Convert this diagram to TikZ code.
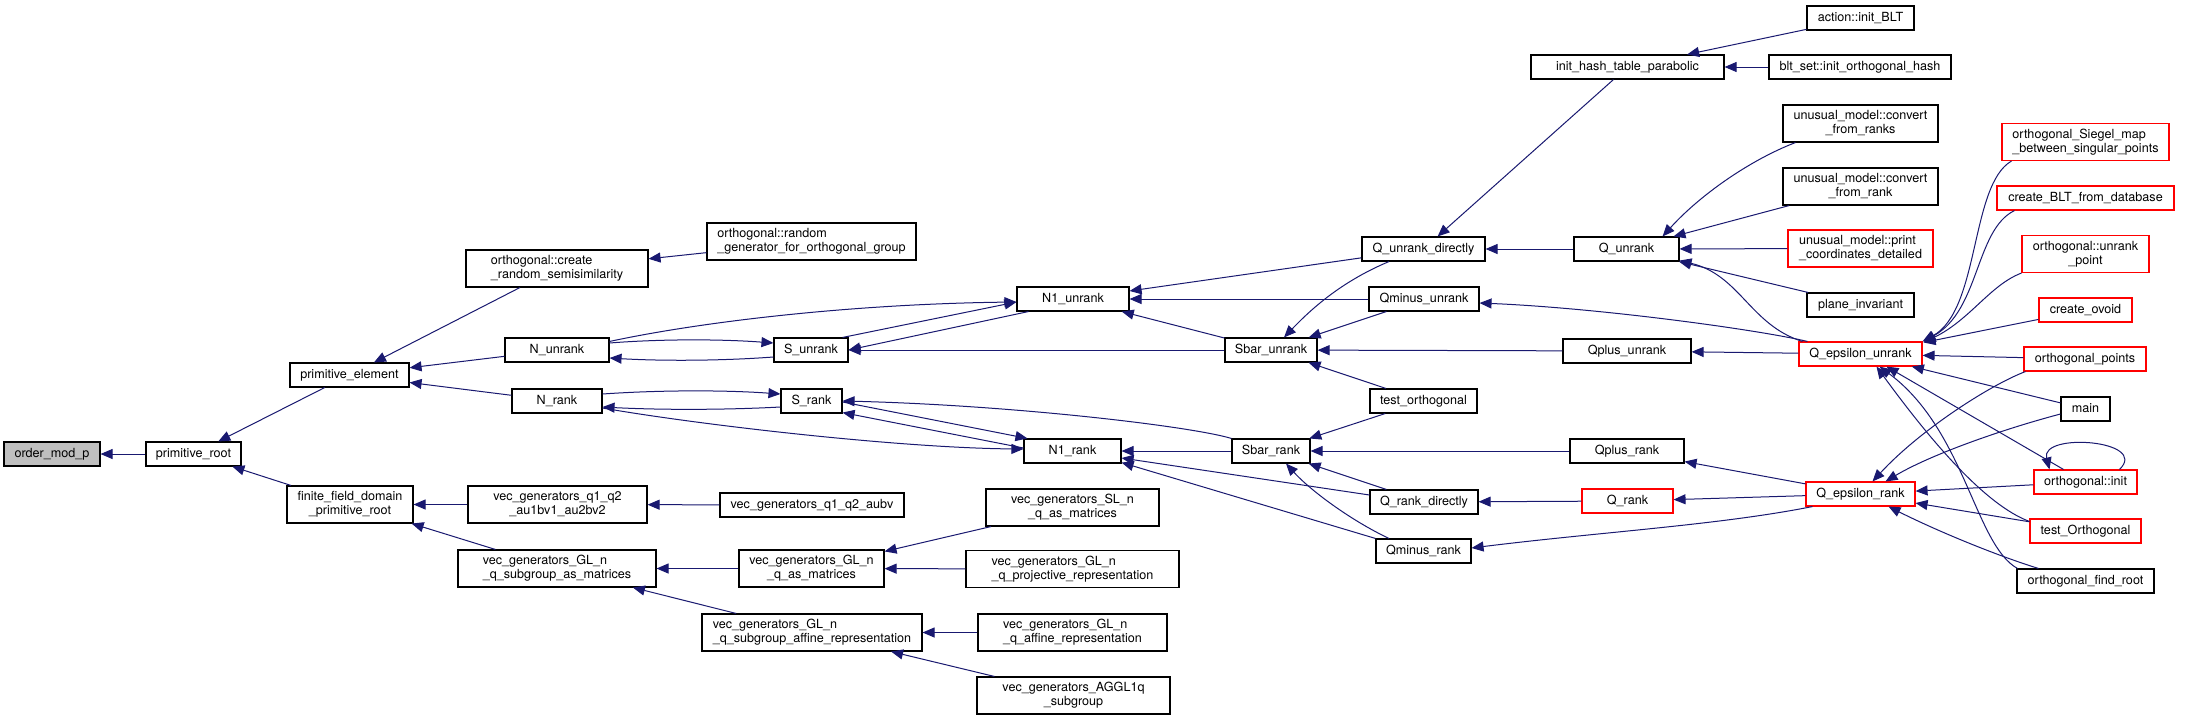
\documentclass[tikz,border=0pt]{standalone}
\usepackage{fontspec}
\setmainfont{TeX Gyre Heros}
\usetikzlibrary{arrows.meta,calc}
\definecolor{edgec}{HTML}{191970}
\definecolor{redc}{HTML}{FF0000}
\definecolor{rootfill}{HTML}{BFBFBF}
\newcommand\mys{\rule[-3pt]{0pt}{12.2pt}}
\begin{document}
\begin{tikzpicture}[x=1pt,y=-1pt,
  box/.style={draw=black, line width=1.1pt, fill=white, inner sep=0pt,
    font=\fontsize{12.6pt}{14pt}\selectfont},
  redbox/.style={box, draw=redc},
  rootbox/.style={box, fill=rootfill},
  e/.style={draw=edgec, line width=1pt, -{Triangle[length=12pt,width=10pt]}},
]
\fill[white] (0,0) rectangle (2206,720);
\useasboundingbox (0,0) rectangle (2206,720);

% column 0-2
\node[rootbox, minimum width=96, minimum height=24] (omp) at (52,454) {\mys order\_mod\_p};
\node[box, minimum width=95, minimum height=24] (pr) at (193.5,454) {\mys primitive\_root};
\node[box, minimum width=119, minimum height=24] (pe) at (349.5,375) {\mys primitive\_element};
\node[box, minimum width=126, minimum height=37, align=center] (ffd) at (350,504.5) {\mys finite\_field\_domain\\\mys \_primitive\_root};
% column 3
\node[box, minimum width=182, minimum height=37, align=left] (ocr) at (557,268.5) {\mys orthogonal::create\\\mys \_random\_semisimilarity};
\node[box, minimum width=104, minimum height=24] (nun) at (557,350) {\mys N\_unrank};
\node[box, minimum width=90, minimum height=24] (nrk) at (557,401) {\mys N\_rank};
\node[box, minimum width=179, minimum height=37, align=center] (vq1) at (557.5,504.5) {\mys vec\_generators\_q1\_q2\\\mys \_au1bv1\_au2bv2};
\node[box, minimum width=198, minimum height=37, align=left] (vsub) at (557,568.5) {\mys vec\_generators\_GL\_n\\\mys \_q\_subgroup\_as\_matrices};
% column 4
\node[box, minimum width=209, minimum height=37, align=left] (org) at (811.5,241.5) {\mys orthogonal::random\\\mys \_generator\_for\_orthogonal\_group};
\node[box, minimum width=74, minimum height=24] (sun) at (811,350) {\mys S\_unrank};
\node[box, minimum width=61, minimum height=24] (srk) at (811.5,401) {\mys S\_rank};
\node[box, minimum width=184, minimum height=24] (vaubv) at (812,505) {\mys vec\_generators\_q1\_q2\_aubv};
\node[box, minimum width=145, minimum height=37, align=center] (vglq) at (811.5,568.5) {\mys vec\_generators\_GL\_n\\\mys \_q\_as\_matrices};
\node[box, minimum width=220, minimum height=37, align=left] (vaff) at (812,632.5) {\mys vec\_generators\_GL\_n\\\mys \_q\_subgroup\_affine\_representation};
% column 5
\node[box, minimum width=112, minimum height=24] (n1u) at (1073,299) {\mys N1\_unrank};
\node[box, minimum width=97, minimum height=24] (n1r) at (1072.5,451) {\mys N1\_rank};
\node[box, minimum width=173, minimum height=37, align=center] (vsl) at (1072.5,507.5) {\mys vec\_generators\_SL\_n\\\mys \_q\_as\_matrices};
\node[box, minimum width=213, minimum height=37, align=left] (vproj) at (1072.5,569) {\mys vec\_generators\_GL\_n\\\mys \_q\_projective\_representation};
\node[box, minimum width=189, minimum height=37, align=left] (vgaff) at (1072.5,632.5) {\mys vec\_generators\_GL\_n\\\mys \_q\_affine\_representation};
\node[box, minimum width=193, minimum height=37, align=center] (vaggl) at (1073.5,695.5) {\mys vec\_generators\_AGGL1q\\\mys \_subgroup};
% column 6
\node[box, minimum width=92, minimum height=24] (sbu) at (1271,350) {\mys Sbar\_unrank};
\node[box, minimum width=78, minimum height=24] (sbr) at (1271,451) {\mys Sbar\_rank};
% column 7
\node[box, minimum width=123, minimum height=24] (qud) at (1423.5,249) {\mys Q\_unrank\_directly};
\node[box, minimum width=110, minimum height=24] (qmu) at (1424,299) {\mys Qminus\_unrank};
\node[box, minimum width=107, minimum height=24] (tor) at (1423.5,401) {\mys test\_orthogonal};
\node[box, minimum width=108, minimum height=24] (qrd) at (1424,502) {\mys Q\_rank\_directly};
\node[box, minimum width=95, minimum height=24] (qmr) at (1423.5,551) {\mys Qminus\_rank};
% column 8
\node[box, minimum width=193, minimum height=24] (ihp) at (1627.5,67) {\mys init\_hash\_table\_parabolic};
\node[box, minimum width=105, minimum height=24] (qun) at (1626.5,249) {\mys Q\_unrank};
\node[box, minimum width=128, minimum height=24] (qpu) at (1627,351) {\mys Qplus\_unrank};
\node[box, minimum width=114, minimum height=24] (qpr) at (1627,451) {\mys Qplus\_rank};
\node[redbox, minimum width=91, minimum height=24] (qr) at (1627.5,501) {\mys Q\_rank};
% column 9
\node[box, minimum width=107, minimum height=24] (abl) at (1860.5,18) {\mys action::init\_BLT};
\node[box, minimum width=182, minimum height=24] (bsh) at (1860,67) {\mys blt\_set::init\_orthogonal\_hash};
\node[box, minimum width=155, minimum height=37, align=center] (ucr) at (1860.5,123.5) {\mys unusual\_model::convert\\\mys \_from\_ranks};
\node[box, minimum width=155, minimum height=37, align=center] (uc1) at (1860.5,186.5) {\mys unusual\_model::convert\\\mys \_from\_rank};
\node[redbox, minimum width=145, minimum height=37, align=left] (upc) at (1860.5,248.5) {\mys unusual\_model::print\\\mys \_coordinates\_detailed};
\node[box, minimum width=107, minimum height=24] (pin) at (1860.5,305) {\mys plane\_invariant};
\node[redbox, minimum width=123, minimum height=24] (qeu) at (1860.5,354) {\mys Q\_epsilon\_unrank};
\node[redbox, minimum width=109, minimum height=24] (qer) at (1860.5,494) {\mys Q\_epsilon\_rank};
% column 10
\node[redbox, minimum width=167, minimum height=37, align=left] (sieg) at (2085.5,142) {\mys orthogonal\_Siegel\_map\\\mys \_between\_singular\_points};
\node[redbox, minimum width=177, minimum height=24] (cblt) at (2085.5,198) {\mys create\_BLT\_from\_database};
\node[redbox, minimum width=127, minimum height=37, align=center] (our) at (2085.5,254) {\mys orthogonal::unrank\\\mys \_point};
\node[redbox, minimum width=93, minimum height=24] (cov) at (2085.5,310) {\mys create\_ovoid};
\node[redbox, minimum width=122, minimum height=24] (opt) at (2085,359) {\mys orthogonal\_points};
\node[box, minimum width=49, minimum height=24] (main) at (2085.5,409) {\mys main};
\node[redbox, minimum width=103, minimum height=24] (oin) at (2085.5,482) {\mys orthogonal::init};
\node[redbox, minimum width=111, minimum height=24] (tO) at (2085.5,531) {\mys test\_Orthogonal};
\node[box, minimum width=137, minimum height=24] (ofr) at (2085.5,581) {\mys orthogonal\_find\_root};

% ---- edges: left part
\draw[e] (pr) -- (omp);
\draw[e] (pe) -- (pr);
\draw[e] (ffd) -- (pr);
\draw[e] (ocr) -- (pe);
\draw[e] (nun) -- (pe);
\draw[e] (nrk) -- (pe);
\draw[e] (org) -- (ocr);
\draw[e] (vq1) -- (ffd);
\draw[e] (vsub) -- (ffd);
\draw[e] (vaubv) -- (vq1);
\draw[e] (vglq) -- (vsub);
\draw[e] (vaff) -- (vsub);
\draw[e] (vsl) -- (vglq);
\draw[e] (vproj) -- (vglq);
\draw[e] (vgaff) -- (vaff);
\draw[e] (vaggl) -- (vaff);

% unrank cluster
\draw[e] ($(nun.north east)+(0,4)$) .. controls (700,322) and (850,304) .. ($(n1u.west)+(0,3)$);
\draw[e] ($(nun.east)+(0,-7)$) .. controls (660,339) and (720,339) .. ($(sun.west)+(0,-7)$);
\draw[e] ($(sun.west)+(0,7)$) .. controls (720,361) and (660,361) .. ($(nun.east)+(0,8)$);
\draw[e] ($(sun.north east)+(-6,0)$) -- ($(n1u.west)+(0,3)$);
\draw[e] ($(n1u.south west)+(12,0)$) -- (sun.east);
\draw[e] (sbu) -- (sun);
\draw[e] (qud) -- (n1u);
\draw[e] (qmu) -- (n1u);
\draw[e] (sbu) -- (n1u);
\draw[e] ($(qud.south)+(-34.5,0)$) .. controls (1345,280) and (1315,305) .. ($(sbu.north)+(13,0)$);
\draw[e] (qmu) -- (sbu);
\draw[e] (qpu) -- (sbu);
\draw[e] (tor) -- (sbu);

% rank cluster
\draw[e] ($(nrk.east)+(0,-7)$) .. controls (660,390) and (725,390) .. ($(srk.west)+(0,-7)$);
\draw[e] ($(srk.west)+(0,6)$) .. controls (725,410) and (660,410) .. ($(nrk.east)+(0,6)$);
\draw[e] ($(nrk.east)+(0,7)$) .. controls (700,425) and (900,448) .. ($(n1r.west)+(0,-2)$);
\draw[e] ($(srk.east)+(0,1)$) -- ($(n1r.north west)+(4,0)$);
\draw[e] ($(n1r.west)+(0,-3)$) -- ($(srk.south east)+(0,-1)$);
\draw[e] (sbr.north west) .. controls (1190,426) and (1010,405) .. (srk.east);
\draw[e] (sbr) -- (n1r);
\draw[e] ($(qrd.west)+(0,-7)$) -- ($(n1r.east)+(0,7)$);
\draw[e] (qmr.north west) -- ($(n1r.south east)+(0,-1)$);
\draw[e] (qrd) -- (sbr);
\draw[e] ($(qmr.north)+(-34.5,0)$) .. controls (1350,520) and (1310,490) .. ($(sbr.south)+(15,0)$);
\draw[e] (tor) -- (sbr);
\draw[e] (qpr) -- (sbr);
\draw[e] (qr) -- (qrd);

% top right
\draw[e] (abl) -- (ihp);
\draw[e] (bsh) -- (ihp);
\draw[e] (ihp) -- (qud);
\draw[e] (qun) -- (qud);
\draw[e] ($(ucr.south west)+(13,0)$) .. controls (1750,160) and (1700,195) .. ($(qun.north east)+(-17,0)$);
\draw[e] (uc1) -- (qun);
\draw[e] (upc) -- (qun);
\draw[e] (pin) -- (qun);
\draw[e] ($(qeu.north west)+(4,0)$) .. controls (1750,325) and (1740,275) .. ($(qun.south east)+(0,-1)$);
\draw[e] ($(qeu.north west)+(9,0)$) .. controls (1760,330) and (1600,308) .. ($(qmu.east)+(0,4)$);
\draw[e] (qeu) -- (qpu);

% into Q_epsilon_unrank
\draw[e] ($(sieg.south west)+(10,0)$) .. controls (1970,185) and (1980,310) .. (qeu.north east);
\draw[e] ($(cblt.south west)+(18,0)$) .. controls (1975,230) and (1980,310) .. ($(qeu.north east)+(1,0)$);
\draw[e] (our.south west) .. controls (1990,285) and (1970,320) .. ($(qeu.north east)+(1,1)$);
\draw[e] (cov) -- ($(qeu.north east)+(1,1)$);
\draw[e] (opt) -- (qeu);
\draw[e] (main) -- (qeu);
\draw[e] ($(oin.north)+(-22,0)$) -- ($(qeu.south)+(26,0)$);
\draw[e] ($(oin.north)+(34,0)$) .. controls (2150,440) and (2040,432) .. ($(oin.north)+(-36,0)$);
\draw[e] ($(tO.north west)+(0,3)$) .. controls (1985,505) and (1930,440) .. ($(qeu.south)+(16,0)$);
\draw[e] ($(ofr.north west)+(1,0)$) .. controls (1975,545) and (1965,430) .. ($(qeu.south)+(19,0)$);

% Q_epsilon_rank
\draw[e] (qer) -- (qpr);
\draw[e] (qer) -- (qr);
\draw[e] ($(qer.south west)+(7,0)$) .. controls (1720,525) and (1600,532) .. ($(qmr.east)+(0,-3)$);
\draw[e] ($(opt.south west)+(2,0)$) .. controls (1990,385) and (1920,430) .. ($(qer.north)+(12,0)$);
\draw[e] ($(main.west)+(0,5)$) .. controls (2000,430) and (1930,455) .. ($(qer.north)+(25,0)$);
\draw[e] (oin) -- (qer);
\draw[e] (tO) -- (qer);
\draw[e] ($(ofr.north west)+(22,0)$) .. controls (1995,555) and (1935,530) .. ($(qer.south)+(28,0)$);
\end{tikzpicture}
\end{document}
